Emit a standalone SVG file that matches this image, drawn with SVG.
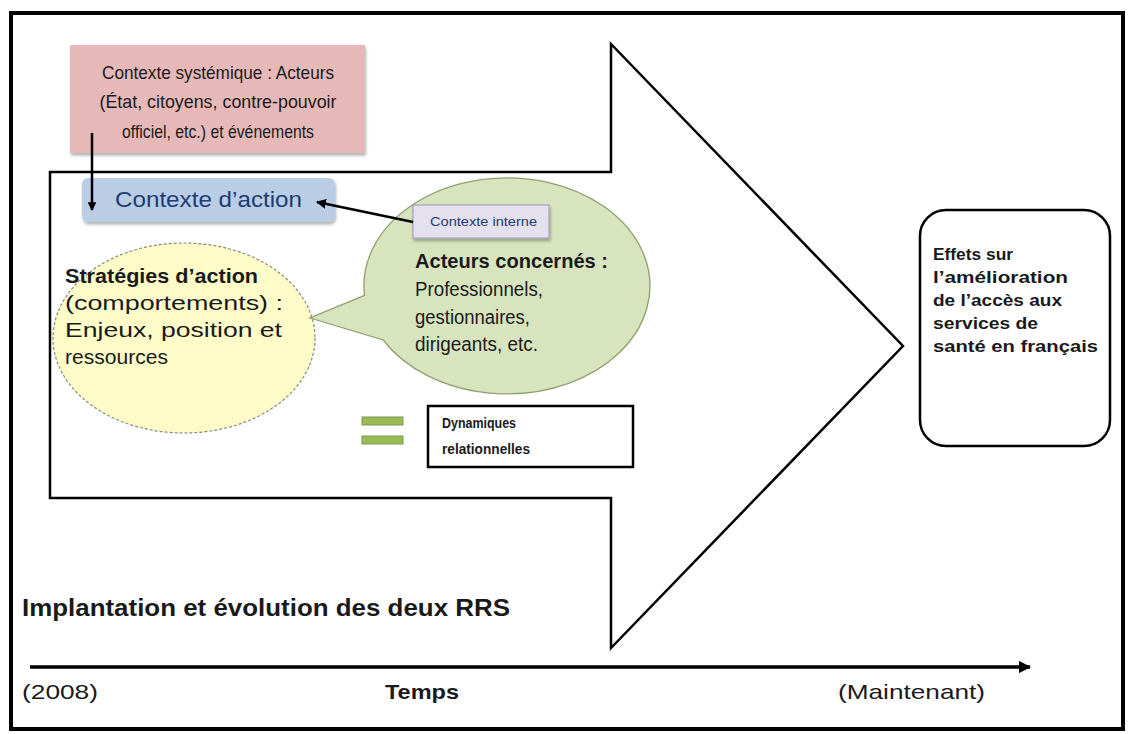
<svg xmlns="http://www.w3.org/2000/svg" width="1128" height="734" viewBox="0 0 1128 734">
<defs>
<style>
.t{font-family:"Liberation Sans",Arial,sans-serif;fill:#1a1a1a}
.b{font-weight:bold}
.blue{fill:#1f3b73}
.ln{stroke:#000;stroke-width:2.5;fill:none}
</style>
<filter id="sh" x="-10%" y="-10%" width="130%" height="140%">
<feDropShadow dx="1" dy="2.5" stdDeviation="1.5" flood-color="#000" flood-opacity="0.3"/>
</filter>
<marker id="ah" viewBox="0 0 10 10" refX="9" refY="5" markerWidth="4" markerHeight="4" orient="auto">
<path d="M0,0 L10,5 L0,10 z" fill="#000"/>
</marker>
<marker id="ah2" viewBox="0 0 10 10" refX="9" refY="5" markerWidth="3.5" markerHeight="3.5" orient="auto">
<path d="M0,0 L10,5 L0,10 z" fill="#000"/>
</marker>
</defs>
<rect x="0" y="0" width="1128" height="734" fill="#fff"/>
<rect x="11" y="13" width="1112" height="716" fill="none" stroke="#000" stroke-width="4"/>

<g id="big-arrow">
<polygon points="50,172 611,172 611,44 903,346 611,648 611,498 50,498" fill="#fff" stroke="#000" stroke-width="2.5" stroke-linejoin="miter"/>
</g>

<g id="contexte-systemique">
<rect x="70" y="45" width="295" height="108" fill="#e6b9b8" filter="url(#sh)"/>
<text class="t" font-size="19" text-anchor="middle" x="218" y="79" textLength="232" lengthAdjust="spacingAndGlyphs">Contexte systémique : Acteurs</text>
<text class="t" font-size="19" text-anchor="middle" x="218" y="108" textLength="237" lengthAdjust="spacingAndGlyphs">(État, citoyens, contre-pouvoir</text>
<text class="t" font-size="19" text-anchor="middle" x="218" y="138" textLength="192" lengthAdjust="spacingAndGlyphs">officiel, etc.) et événements</text>
</g>

<g id="contexte-action">
<rect x="82" y="178" width="253" height="44" rx="6" fill="#b9cde5" filter="url(#sh)"/>
<text class="t blue" font-size="22" x="115" y="207" textLength="187" lengthAdjust="spacingAndGlyphs">Contexte d’action</text>
</g>

<g id="strategies">
<ellipse cx="184" cy="338" rx="131" ry="95" fill="#fdfcc9" stroke="#8a8a7a" stroke-width="1.2" stroke-dasharray="3,2"/>
<text class="t b" font-size="20" x="65" y="283" textLength="193" lengthAdjust="spacingAndGlyphs">Stratégies d’action</text>
<text class="t" font-size="20" x="65" y="310" textLength="218" lengthAdjust="spacingAndGlyphs">(comportements) :</text>
<text class="t" font-size="20" x="65" y="337" textLength="217" lengthAdjust="spacingAndGlyphs">Enjeux, position et</text>
<text class="t" font-size="20" x="65" y="364" textLength="103" lengthAdjust="spacingAndGlyphs">ressources</text>
</g>

<g id="acteurs">
<path d="M364.5,295.4 L310,318 L383.2,340 A143,108 0 1 0 364.5,295.4 Z" fill="#d7e4bd" stroke="#8f9f6c" stroke-width="1.3"/>
<text class="t b" font-size="19.5" x="415" y="268" textLength="193" lengthAdjust="spacingAndGlyphs">Acteurs concernés :</text>
<text class="t" font-size="19.5" x="415" y="296" textLength="128" lengthAdjust="spacingAndGlyphs">Professionnels,</text>
<text class="t" font-size="19.5" x="415" y="324" textLength="115" lengthAdjust="spacingAndGlyphs">gestionnaires,</text>
<text class="t" font-size="19.5" x="415" y="351" textLength="123" lengthAdjust="spacingAndGlyphs">dirigeants, etc.</text>
</g>

<g id="contexte-interne">
<rect x="413" y="205" width="136" height="33" fill="#e5e0ee" stroke="#a79fc0" stroke-width="1.2" filter="url(#sh)"/>
<text class="t blue" font-size="13" x="430" y="226" textLength="107" lengthAdjust="spacingAndGlyphs">Contexte interne</text>
</g>

<g id="dynamiques">
<rect x="362" y="417" width="41" height="8" fill="#9bbb59" stroke="#7f9a48" stroke-width="1"/>
<rect x="362" y="436" width="41" height="8" fill="#9bbb59" stroke="#7f9a48" stroke-width="1"/>
<rect x="428" y="406" width="205" height="61" fill="#fff" stroke="#000" stroke-width="2.5"/>
<text class="t b" font-size="14" x="442" y="428" textLength="74" lengthAdjust="spacingAndGlyphs">Dynamiques</text>
<text class="t b" font-size="14" x="442" y="454" textLength="88" lengthAdjust="spacingAndGlyphs">relationnelles</text>
</g>

<g id="effets">
<rect x="920" y="210" width="190" height="236" rx="26" fill="#fff" stroke="#000" stroke-width="2.5"/>
<text class="t b" font-size="17" x="933" y="260" textLength="80" lengthAdjust="spacingAndGlyphs">Effets sur</text>
<text class="t b" font-size="17" x="933" y="283" textLength="135" lengthAdjust="spacingAndGlyphs">l’amélioration</text>
<text class="t b" font-size="17" x="933" y="306" textLength="129" lengthAdjust="spacingAndGlyphs">de l’accès aux</text>
<text class="t b" font-size="17" x="933" y="329" textLength="105" lengthAdjust="spacingAndGlyphs">services de</text>
<text class="t b" font-size="17" x="933" y="352" textLength="165" lengthAdjust="spacingAndGlyphs">santé en français</text>
</g>

<g id="titre">
<text class="t b" font-size="24" x="22" y="616" textLength="488" lengthAdjust="spacingAndGlyphs">Implantation et évolution des deux RRS</text>
</g>

<g id="axe-temps">
<text class="t" font-size="21" x="22" y="699" textLength="76" lengthAdjust="spacingAndGlyphs">(2008)</text>
<text class="t b" font-size="21" x="385" y="699" textLength="74" lengthAdjust="spacingAndGlyphs">Temps</text>
<text class="t" font-size="21" x="838" y="699" textLength="147" lengthAdjust="spacingAndGlyphs">(Maintenant)</text>
</g>

<g id="connectors">
<line x1="92" y1="133" x2="92" y2="210" class="ln" marker-end="url(#ah2)"/>
<line x1="413" y1="222" x2="317" y2="202" class="ln" marker-end="url(#ah)"/>
<line x1="30" y1="667" x2="1030" y2="667" stroke="#000" stroke-width="3.5" marker-end="url(#ah2)"/>
</g>
</svg>
